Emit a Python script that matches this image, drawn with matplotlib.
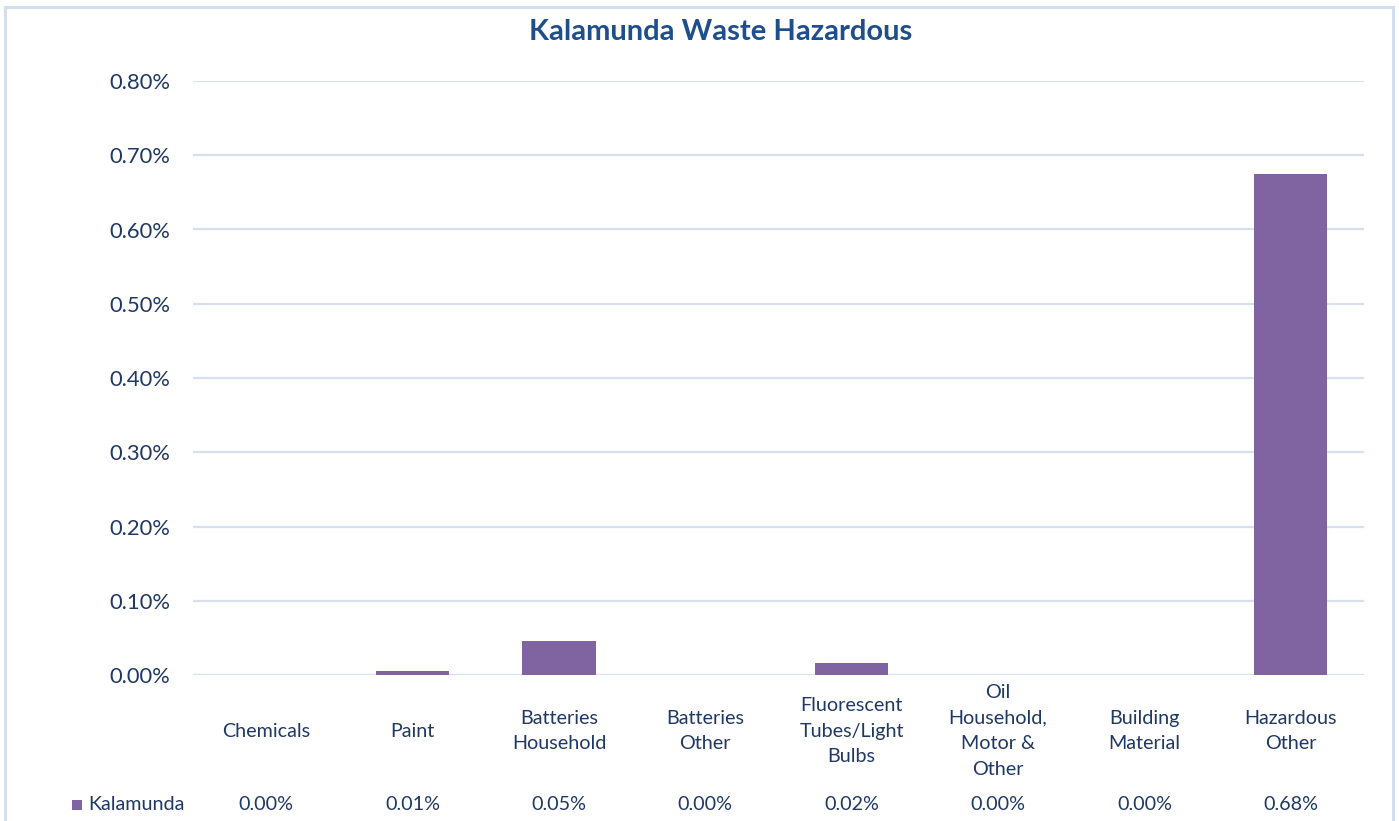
import matplotlib
matplotlib.use("Agg")
import matplotlib.pyplot as plt
from matplotlib.patches import Rectangle
from matplotlib.transforms import blended_transform_factory
from matplotlib.ticker import FuncFormatter

# Share of total waste (percent) per hazardous category
categories = [
    "Chemicals",
    "Paint",
    "Batteries\nHousehold",
    "Batteries\nOther",
    "Fluorescent\nTubes/Light\nBulbs",
    "Oil\nHousehold,\nMotor &\nOther",
    "Building\nMaterial",
    "Hazardous\nOther",
]
kalamunda = [0.0, 0.0055, 0.046, 0.0, 0.016, 0.0, 0.0, 0.675]
series_name = "Kalamunda"
y_ticks = [0.0, 0.1, 0.2, 0.3, 0.4, 0.5, 0.6, 0.7, 0.8]

plt.rcParams["font.family"] = ["Lato", "DejaVu Sans"]

W, H = 1399, 821
fig = plt.figure(figsize=(W / 100, H / 100), dpi=100)
fig.patch.set_facecolor("white")

text_col = "#1F3864"
grid_col = "#D6E0EF"
bar_col = "#8064A2"

# outer chart border
fig.patches.append(Rectangle((5 / W, -0.05), (1393 - 5) / W, 1.05 - 7 / H,
                             transform=fig.transFigure, fill=False,
                             edgecolor="#D3DFEE", linewidth=2.2))

left, right = 193 / W, 1364 / W
top, bottom = 1 - 81 / H, 1 - 675 / H
ax = fig.add_axes([left, bottom, right - left, top - bottom])

x = list(range(len(categories)))
ax.bar(x, kalamunda, width=0.5, color=bar_col, zorder=3)

ax.set_xlim(-0.5, len(categories) - 0.5)
ax.set_ylim(0, 0.8)
ax.set_yticks(y_ticks)
ax.yaxis.set_major_formatter(FuncFormatter(lambda v, p: f"{v:.2f}%"))
ax.tick_params(axis="y", length=0, pad=16.5, labelsize=15.8, labelcolor=text_col)
ax.set_xticks([])
ax.grid(axis="y", color=grid_col, linewidth=1.6, zorder=0)
for s in ax.spines.values():
    s.set_visible(False)

fig.text(721 / W, 1 - 32 / H, "Kalamunda Waste Hazardous", ha="center",
         va="center", fontsize=21, fontweight="bold", color="#1F4E8C")

# data table below the axis: category names and values
tr = blended_transform_factory(ax.transData, fig.transFigure)
for xi, cat, v in zip(x, categories, kalamunda):
    ax.text(xi, 1 - 731 / H, cat, transform=tr, ha="center", va="center",
            fontsize=14.2, color=text_col, linespacing=1.6,
            multialignment="center")
    ax.text(xi, 1 - 804 / H, f"{v:.2f}%", transform=tr, ha="center",
            va="center", fontsize=14.2, color=text_col)

fig.patches.append(Rectangle((72 / W, 1 - 810 / H), 10 / W, 10 / H,
                             transform=fig.transFigure, facecolor=bar_col,
                             edgecolor="none"))
fig.text(88 / W, 1 - 804 / H, series_name, ha="left", va="center",
         fontsize=14.2, color=text_col)

fig.savefig("out.png", dpi=100, facecolor="white")
